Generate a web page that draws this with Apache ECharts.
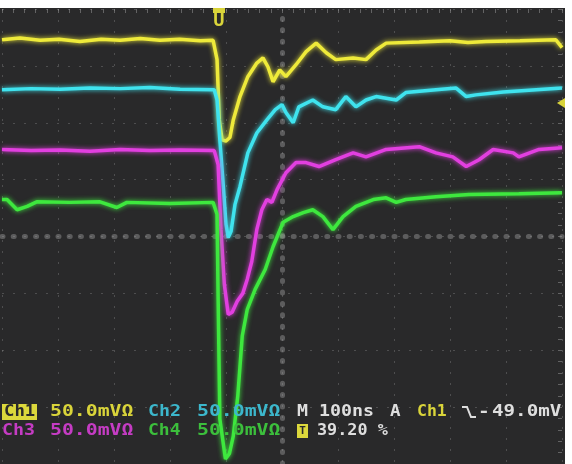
<!DOCTYPE html>
<html>
<head>
<meta charset="utf-8">
<script src="https://cdn.jsdelivr.net/npm/echarts@6/dist/echarts.min.js"></script>
<style>
  html, body { margin: 0; padding: 0; background: #fff; }
  #scope { width: 572px; height: 464px; }
</style>
</head>
<body>
<div id="scope"></div>
<script>
// time in ns from trigger, level in screen divisions (+4 top, -4 bottom)
var ch1 = [[-392,3.46],[-360,3.49],[-324,3.45],[-290,3.47],[-253,3.43],[-215,3.47],[-181,3.45],[-145,3.48],[-110,3.45],[-75,3.47],[-38,3.44],[-15,3.45],
  [-8,3.11],[-4,2.05],[1,1.70],[8,1.68],[15,1.74],[21,2.05],[33,2.46],[47,2.81],[63,3.05],[74,3.14],[83,2.98],[92,2.72],
  [104,2.93],[115,2.81],[133,3.02],[151,3.25],[169,3.40],[187,3.23],[204,3.11],[235,3.14],[258,3.11],[276,3.28],[294,3.40],
  [353,3.42],[408,3.44],[440,3.41],[472,3.43],[533,3.44],[597,3.46],[608,3.32]];
var ch2 = [[-392,2.58],[-340,2.60],[-288,2.59],[-235,2.61],[-181,2.60],[-128,2.62],[-74,2.59],[-13,2.58],
  [-8,2.40],[-3,1.70],[3,0.91],[8,0.21],[12,-0.02],[17,0.09],[24,0.56],[33,0.88],[47,1.47],[63,1.82],[81,2.05],[96,2.23],
  [108,2.32],[115,2.18],[128,2.00],[138,2.28],[163,2.40],[181,2.28],[204,2.23],[222,2.46],[240,2.28],[258,2.40],[276,2.46],
  [312,2.40],[329,2.53],[383,2.58],[419,2.61],[437,2.46],[454,2.49],[503,2.54],[562,2.58],[608,2.61]];
var ch3 = [[-392,1.53],[-340,1.51],[-288,1.52],[-235,1.50],[-181,1.53],[-128,1.51],[-74,1.52],[-13,1.51],
  [-6,1.26],[-1,0.12],[5,-0.84],[12,-1.37],[19,-1.33],[28,-1.14],[38,-1.00],[46,-0.75],[54,-0.44],[63,0.12],[72,0.47],
  [81,0.65],[90,0.60],[99,0.82],[115,1.12],[133,1.30],[151,1.30],[174,1.23],[204,1.35],[235,1.47],[258,1.40],[294,1.53],
  [353,1.58],[383,1.47],[413,1.40],[437,1.23],[460,1.35],[485,1.53],[521,1.47],[531,1.40],[567,1.53],[608,1.56]];
var ch4 = [[-392,0.65],[-383,0.65],[-365,0.47],[-347,0.53],[-330,0.61],[-271,0.60],[-217,0.61],[-187,0.51],[-169,0.60],
  [-92,0.58],[-15,0.60],[-8,0.39],[-6,-1.11],[-3,-3.21],[7,-3.91],[14,-3.82],[21,-3.51],[29,-2.81],[37,-1.75],[46,-1.28],
  [60,-0.93],[78,-0.58],[92,-0.18],[110,0.25],[128,0.35],[146,0.42],[163,0.47],[181,0.35],[199,0.12],[217,0.35],[240,0.53],
  [271,0.65],[294,0.68],[312,0.60],[329,0.65],[383,0.70],[442,0.74],[531,0.75],[608,0.77]];

var traceColors = ['#eeea3a', '#3fe3ee', '#e23fe0', '#3ee83e'];
var textColors = ['#d9d43a', '#3cb7cc', '#c53cc4', '#3cbf3c'];
var chNames = ['Ch1', 'Ch2', 'Ch3', 'Ch4'];
var voltsDiv = ['50.0mVΩ', '50.0mVΩ', '50.0mVΩ', '50.0mVΩ'];
var timebase = 'M 100ns';
var trigSrc = 'Ch1';
var trigLevel = '49.0mV';
var trigPos = '39.20 %';

var chart = echarts.init(document.getElementById('scope'));

function txt(x, y, s, color, sx) {
  return {
    type: 'text', x: x, y: y, scaleX: sx || 1.17, z: 100,
    style: { text: s, fill: color, fontSize: 15, fontWeight: 'bold', fontFamily: 'DejaVu Sans Mono', verticalAlign: 'middle' }
  };
}

var dotted = { color: 'rgba(160,160,160,0.32)', width: 1, type: [2, 9] };
var series = [ch1, ch2, ch3, ch4].map(function (d, i) {
  return {
    type: 'line', data: d, xAxisIndex: 2, yAxisIndex: 0, showSymbol: false, animation: false,
    lineStyle: { color: traceColors[i], width: 3.5, shadowBlur: 5, shadowColor: traceColors[i] },
    z: 5 + i
  };
});

chart.setOption({
  backgroundColor: '#29292a',
  grid: { left: 2, top: 9, width: 560, height: 456 },
  xAxis: [
    { type: 'value', min: -5, max: 5, interval: 1,
      axisLine: { onZero: true, onZeroAxisIndex: 0, lineStyle: { color: 'rgba(170,170,170,0.4)', width: 5, type: [1, 10.2] } },
      axisTick: { show: false }, axisLabel: { show: false }, splitLine: { show: true, lineStyle: dotted } },
    { type: 'value', min: -5, max: 5, interval: 1, position: 'top',
      axisLine: { show: false, onZero: false }, axisLabel: { show: false }, splitLine: { show: false },
      axisTick: { show: true, inside: true, length: 4, lineStyle: { color: 'rgba(170,170,170,0.45)' } },
      minorTick: { show: true, splitNumber: 5, length: 4, lineStyle: { color: 'rgba(170,170,170,0.45)' } } },
    { type: 'value', min: -392, max: 608, show: false }
  ],
  yAxis: [
    { type: 'value', min: -4, max: 4, interval: 1,
      axisLine: { onZero: true, onZeroAxisIndex: 0, lineStyle: { color: 'rgba(170,170,170,0.4)', width: 5, type: [1, 10.4] } },
      axisTick: { show: false }, axisLabel: { show: false }, splitLine: { show: true, lineStyle: dotted } },
    { type: 'value', min: -4, max: 4, interval: 1, position: 'right',
      axisLine: { show: false, onZero: false }, axisLabel: { show: false }, splitLine: { show: false },
      axisTick: { show: true, inside: true, length: 4, lineStyle: { color: 'rgba(170,170,170,0.45)' } },
      minorTick: { show: true, splitNumber: 5, length: 4, lineStyle: { color: 'rgba(170,170,170,0.45)' } } }
  ],
  series: series,
  graphic: [
    // white frame strips
    { type: 'rect', z: 200, shape: { x: 0, y: 0, width: 572, height: 8 }, style: { fill: '#fff' } },
    { type: 'rect', z: 200, shape: { x: 565, y: 0, width: 7, height: 464 }, style: { fill: '#fff' } },
    // trigger position marker
    { type: 'rect', z: 100, shape: { x: 213, y: 8, width: 12, height: 5 }, style: { fill: '#d9d43a' } },
    { type: 'text', x: 219, y: 22, z: 100, scaleX: 1.1, style: { text: 'U', fill: '#d9d43a', fontSize: 17, fontWeight: 'bold', fontFamily: 'DejaVu Sans Mono', align: 'center', verticalAlign: 'middle' } },
    // trigger level marker
    { type: 'polygon', z: 100, shape: { points: [[557, 103], [565, 98], [565, 108]] }, style: { fill: '#d9d43a' } },
    // readout row 1
    { type: 'rect', z: 99, shape: { x: 2, y: 404, width: 35, height: 16 }, style: { fill: '#dcd83c' } },
    txt(4, 412, chNames[0], '#2a2a2a', 1.15),
    txt(50, 412, voltsDiv[0], textColors[0], 1.32),
    txt(148, 412, chNames[1], textColors[1], 1.22),
    txt(197, 412, voltsDiv[1], textColors[1], 1.32),
    txt(297, 412, timebase, '#dedede', 1.22),
    txt(390, 412, 'A', '#dedede'),
    txt(417, 412, trigSrc, '#d9d43a', 1.1),
    { type: 'polyline', z: 100, shape: { points: [[462, 407], [467, 407], [471, 417], [476, 417]] }, style: { stroke: '#dedede', lineWidth: 2, fill: null } },
    txt(478, 412, '-', '#dedede', 1.3),
    txt(492, 412, trigLevel, '#dedede', 1.28),
    // readout row 2
    txt(2, 431, chNames[2], textColors[2], 1.22),
    txt(50, 431, voltsDiv[2], textColors[2], 1.32),
    txt(148, 431, chNames[3], textColors[3], 1.2),
    txt(197, 431, voltsDiv[3], textColors[3], 1.32),
    { type: 'rect', z: 99, shape: { x: 297, y: 424, width: 11, height: 14 }, style: { fill: '#dcd83c' } },
    { type: 'text', x: 302.5, y: 431, z: 100, style: { text: 'T', fill: '#2a2a2a', fontSize: 11, fontWeight: 'bold', fontFamily: 'DejaVu Sans Mono', align: 'center', verticalAlign: 'middle' } },
    txt(317, 431, trigPos, '#dedede', 1.12)
  ]
});
</script>
</body>
</html>
